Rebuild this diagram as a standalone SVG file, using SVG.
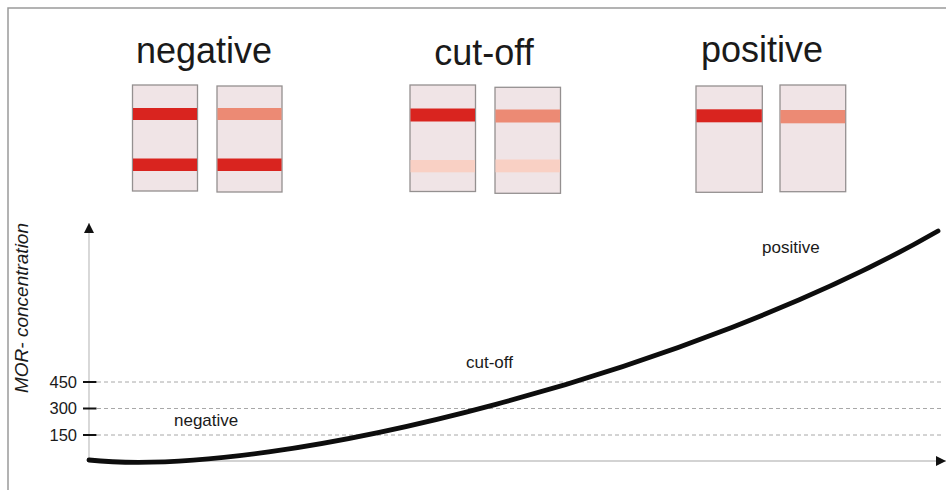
<svg xmlns="http://www.w3.org/2000/svg" width="946" height="490" viewBox="0 0 946 490">
<style>
.title{font-family:"Liberation Sans",Arial,sans-serif;font-size:36px;fill:#1a1a1a;text-anchor:middle}
.lbl{font-family:"Liberation Sans",Arial,sans-serif;font-size:17px;fill:#1a1a1a}
.tick{font-family:"Liberation Sans",Arial,sans-serif;font-size:16.5px;fill:#1a1a1a;text-anchor:end}
.strip{fill:#f0e4e6;stroke:#949090;stroke-width:1.3}
.red{fill:#d9241f}
.sal{fill:#ec8a74}
.pale{fill:#f9d0c4}
.dash{stroke:#a8a8a8;stroke-width:1;stroke-dasharray:4 3;fill:none}
.axis{stroke:#c4c4c4;stroke-width:1.3;fill:none}
</style>
<defs>
<marker id="ah" viewBox="0 0 10 10" refX="10" refY="5" markerWidth="10" markerHeight="10" markerUnits="userSpaceOnUse" orient="auto">
<path d="M0,0 L10,5 L0,10 z" fill="#111"/>
</marker>
</defs>
<rect width="946" height="490" fill="#fff"/>
<path d="M8,490 L8,8 L946,8" fill="none" stroke="#9a9a9a" stroke-width="1.5"/>

<g id="negative">
<text class="title" x="204" y="63">negative</text>
<rect class="strip" x="132.5" y="85" width="65" height="106"/>
<rect class="red" x="133" y="108" width="64" height="12"/>
<rect class="red" x="133" y="158.5" width="64" height="12.5"/>
<rect class="strip" x="217" y="86" width="65" height="106"/>
<rect class="sal" x="217.5" y="108" width="64" height="12"/>
<rect class="red" x="217.5" y="158.5" width="64" height="12.5"/>
</g>

<g id="cutoff">
<text class="title" x="484" y="65">cut-off</text>
<rect class="strip" x="410" y="85" width="65.5" height="106.5"/>
<rect class="red" x="410.5" y="108.5" width="64.5" height="13"/>
<rect class="pale" x="410.5" y="160" width="64.5" height="12.3"/>
<rect class="strip" x="495" y="87.3" width="65.5" height="106"/>
<rect class="sal" x="495.5" y="109.5" width="64.5" height="13"/>
<rect class="pale" x="495.5" y="159.5" width="64.5" height="12.8"/>
</g>

<g id="positive">
<text class="title" x="762" y="62">positive</text>
<rect class="strip" x="696" y="86" width="66.3" height="106.3"/>
<rect class="red" x="696.5" y="109.3" width="65.3" height="13"/>
<rect class="strip" x="780" y="85" width="65.7" height="106.7"/>
<rect class="sal" x="780.5" y="110" width="64.7" height="13.3"/>
</g>

<g id="connectors">
<line class="dash" x1="97" y1="382" x2="943" y2="382"/>
<line class="dash" x1="97" y1="408.5" x2="943" y2="408.5"/>
<line class="dash" x1="97" y1="435" x2="943" y2="435"/>
<line class="axis" x1="89" y1="461" x2="89" y2="223" marker-end="url(#ah)"/>
<line class="axis" x1="89" y1="461" x2="946" y2="461" marker-end="url(#ah)"/>
<line x1="83" y1="382" x2="96.5" y2="382" stroke="#111" stroke-width="2"/>
<line x1="83" y1="408.5" x2="96.5" y2="408.5" stroke="#111" stroke-width="2"/>
<line x1="83" y1="435" x2="96.5" y2="435" stroke="#111" stroke-width="2"/>
<path d="M89,460 C280,480 700,368 938,231" fill="none" stroke="#0d0d0d" stroke-width="4.8" stroke-linecap="round"/>
</g>

<g id="axis-labels">
<text class="tick" x="77" y="387.5">450</text>
<text class="tick" x="77" y="414">300</text>
<text class="tick" x="77" y="440.5">150</text>
<text class="lbl" transform="translate(28,308) rotate(-90)" text-anchor="middle" style="font-size:19px;font-style:italic">MOR- concentration</text>
<text class="lbl" x="174" y="426">negative</text>
<text class="lbl" x="466" y="368">cut-off</text>
<text class="lbl" x="762" y="253">positive</text>
</g>
</svg>
